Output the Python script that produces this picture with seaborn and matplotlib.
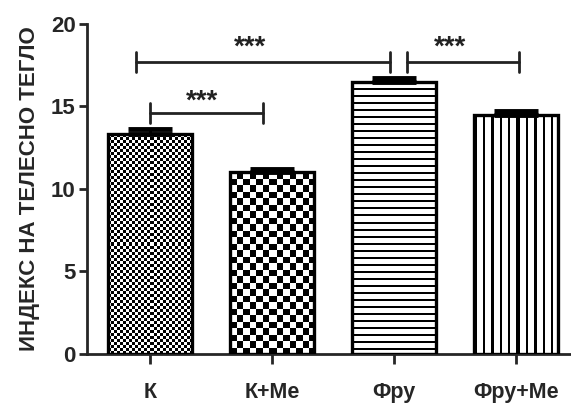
import numpy as np
import pandas as pd
import seaborn as sns
import matplotlib.pyplot as plt

# values
groups = ["К", "К+Ме", "Фру", "Фру+Ме"]
means = [13.3, 11.0, 16.5, 14.5]
sems = [0.35, 0.2, 0.2, 0.2]
textures = ["fine_check", "big_check", "hlines", "vlines"]
ylabel = "ИНДЕКС НА ТЕЛЕСНО ТЕГЛО"

# significance brackets (left x, right x, height) and the star labels
brackets = [(-0.11, 1.97, 17.7), (2.11, 3.02, 17.7), (0.0, 0.93, 14.6)]
star_pos = [(0.82, 18.55), (2.46, 18.55), (0.43, 15.3)]
star_text = "***"

df = pd.DataFrame({"group": groups, "value": means})

sns.set_theme(style="ticks")
plt.rcParams["font.family"] = ["Liberation Sans", "DejaVu Sans"]
plt.rcParams["font.weight"] = "bold"

fig = plt.figure(figsize=(5.71, 4.03), dpi=100)
ax = fig.add_axes([0.152, 0.122, 0.848, 0.819])

sns.barplot(data=df, x="group", y="value", color="white", edgecolor="black",
            linewidth=2.4, width=0.69, errorbar=None, ax=ax, zorder=3)

ax.set_xlim(-0.516, 3.45)
ax.set_ylim(0, 20)


def make_texture(kind, w, h):
    yy, xx = np.mgrid[0:h, 0:w]
    if kind == "fine_check":
        return ((xx // 3 + yy // 3) % 2).astype(float)
    if kind == "big_check":
        return ((xx * 2 // 13 + yy * 2 // 13) % 2).astype(float)
    if kind == "hlines":
        return ((yy % 7) < 2).astype(float)
    return ((xx * 10 % 84) < 24).astype(float)


for patch, kind in zip(ax.patches, textures):
    x0, w, h = patch.get_x(), patch.get_width(), patch.get_height()
    p0 = ax.transData.transform((x0, 0))
    p1 = ax.transData.transform((x0 + w, h))
    wpx = max(int(round(p1[0] - p0[0])), 1)
    hpx = max(int(round(p1[1] - p0[1])), 1)
    img = ax.imshow(make_texture(kind, wpx, hpx), cmap="gray_r", vmin=0, vmax=1,
                    extent=(x0, x0 + w, 0, h), interpolation="nearest",
                    aspect="auto", zorder=2)
    img.set_clip_path(patch)
    patch.set_facecolor("none")

ax.errorbar(range(len(groups)), means, yerr=[[0] * len(sems), sems], fmt="none",
            ecolor="black", elinewidth=2.2, capsize=16, capthick=3.5, zorder=2.5)

for (xa, xb, yb), (sx, sy) in zip(brackets, star_pos):
    ax.plot([xa, xb], [yb, yb], color="#222222", lw=2, clip_on=False)
    ax.plot([xa, xa], [yb - 0.6, yb + 0.6], color="#222222", lw=2, clip_on=False)
    ax.plot([xb, xb], [yb - 0.6, yb + 0.6], color="#222222", lw=2, clip_on=False)
    ax.text(sx, sy, star_text, ha="center", va="center", fontsize=20,
            fontweight="bold", color="#222222")

ax.set_xlabel("")
ax.set_ylabel(ylabel, fontsize=16, fontweight="bold", labelpad=8)
ax.set_yticks([0, 5, 10, 15, 20])
ax.tick_params(axis="y", labelsize=16, width=2, length=6, pad=2)
ax.tick_params(axis="x", labelsize=15.5, width=2, length=7, pad=13)
for lab in ax.get_xticklabels() + ax.get_yticklabels():
    lab.set_fontweight("bold")

sns.despine(ax=ax)
ax.spines["left"].set_linewidth(2)
ax.spines["bottom"].set_linewidth(2)

fig.savefig("out.png", dpi=100)
